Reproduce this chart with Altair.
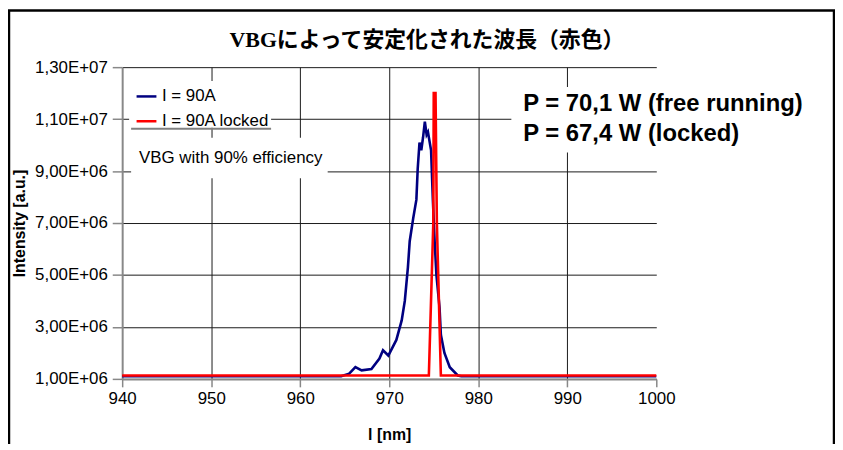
import altair as alt
import pandas as pd

# ---------------- data ----------------
series_names = ["I = 90A", "I = 90A locked"]
series_colors = ["#000080", "#ff0000"]

blue_nm = [940.0, 964.6, 965.5, 966.2, 966.9, 968.0, 968.9, 969.3, 969.9, 970.8,
           971.4, 971.75, 972.1, 972.3, 972.7, 973.05, 973.2, 973.4, 973.6, 973.8,
           974.0, 974.2, 974.35, 974.7, 974.9, 975.1, 975.3, 975.65, 975.8, 976.2,
           976.8, 977.7, 978.1, 1000.0]
blue_int = [1.10e6, 1.10e6, 1.20e6, 1.45e6, 1.33e6, 1.38e6, 1.78e6, 2.10e6, 1.90e6, 2.50e6,
            3.25e6, 4.00e6, 5.30e6, 6.30e6, 7.20e6, 7.90e6, 9.10e6, 1.01e7, 9.80e6, 1.03e7,
            1.09e7, 1.04e7, 1.05e7, 9.80e6, 7.90e6, 6.30e6, 5.00e6, 3.75e6, 2.70e6, 2.00e6,
            1.45e6, 1.13e6, 1.10e6, 1.10e6]

red_nm = [940.0, 974.45, 974.95, 975.0, 975.2, 975.35, 975.8, 1000.0]
red_int = [1.13e6, 1.13e6, 7.0e6, 1.2e7, 1.2e7, 7.0e6, 1.13e6, 1.13e6]

x_ticks = [940, 950, 960, 970, 980, 990, 1000]
y_ticks = [1e6, 3e6, 5e6, 7e6, 9e6, 1.1e7, 1.3e7]

chart_title = ["VBGによって安定化された波長（赤色）"]
x_title = "l [nm]"
y_title = "Intensity [a.u.]"
note_vbg = ["VBG with 90% efficiency"]
note_power_1 = ["P = 70,1 W (free running)"]
note_power_2 = ["P = 67,4 W (locked)"]

# ---------------- table ----------------
rows = []
for i, (x, y) in enumerate(zip(blue_nm, blue_int)):
    rows.append({"nm": x, "intensity": y, "series": series_names[0], "idx": i})
for i, (x, y) in enumerate(zip(red_nm, red_int)):
    rows.append({"nm": x, "intensity": y, "series": series_names[1], "idx": i})
df = pd.DataFrame(rows)

FONT = "Liberation Sans"
one = pd.DataFrame({"k": [0]})

label_expr = (
    "replace(format(datum.value / pow(10, floor(log(datum.value)/LN10 + 1e-9)), '.2f'), '.', ',')"
    " + 'E+' + (floor(log(datum.value)/LN10 + 1e-9) < 10 ? '0' : '')"
    " + floor(log(datum.value)/LN10 + 1e-9)"
)

x_enc = alt.X(
    "nm:Q",
    scale=alt.Scale(domain=[940, 1000], nice=False, zero=False),
    axis=alt.Axis(
        values=x_ticks, title=x_title, format="d", labelFlush=False,
        grid=True, gridColor="#1a1a1a", gridWidth=1,
        gridOpacity=alt.condition("datum.value == 940 || datum.value == 1000", alt.value(0), alt.value(1)),
        domainColor="#888888", domainWidth=2, tickColor="#888888", tickWidth=1.5, tickSize=8,
        labelFont=FONT, labelFontSize=17, labelColor="black", labelPadding=4,
        titleFont=FONT, titleFontSize=16, titleFontWeight="bold", titleColor="black",
        titleY=56, titleBaseline="middle",
    ),
)
y_enc = alt.Y(
    "intensity:Q",
    scale=alt.Scale(domain=[1e6, 1.3e7], nice=False, zero=False),
    axis=alt.Axis(
        values=y_ticks, title=y_title, labelExpr=label_expr, labelFlush=False,
        grid=True, gridColor="#1a1a1a", gridWidth=1,
        domainColor="#888888", domainWidth=2, tickColor="#888888", tickWidth=1.5, tickSize=10,
        labelFont=FONT, labelFontSize=17, labelColor="black", labelPadding=5,
        titleFont=FONT, titleFontSize=16, titleFontWeight="bold", titleColor="black",
        titleX=-103, titleY=157, titleBaseline="middle", titleAlign="center", titleAngle=270,
    ),
)

lines = alt.Chart(df).mark_line(strokeWidth=2.6).encode(
    x=x_enc,
    y=y_enc,
    color=alt.Color(
        "series:N",
        scale=alt.Scale(domain=series_names, range=series_colors),
        legend=alt.Legend(
            title=None, orient="none", legendX=13, legendY=18,
            symbolType="stroke", symbolSize=400, symbolStrokeWidth=2.5,
            labelFont=FONT, labelFontSize=17, labelColor="black", labelOffset=4,
            rowPadding=5, padding=0,
        ),
    ),
    order="idx:Q",
)

# white boxes behind legend / notes (they hide the grid, as in the original)
box_legend = alt.Chart(one).mark_rect(color="white").encode(
    x=alt.value(7), x2=alt.value(150), y=alt.value(14), y2=alt.value(61))
box_vbg = alt.Chart(one).mark_rect(color="white").encode(
    x=alt.value(9), x2=alt.value(207), y=alt.value(71), y2=alt.value(112))
box_power = alt.Chart(one).mark_rect(color="white").encode(
    x=alt.value(392), x2=alt.value(717), y=alt.value(20), y2=alt.value(86))
legend_rule = alt.Chart(one).mark_rule(color="#808080", strokeWidth=2).encode(
    x=alt.value(9), x2=alt.value(150), y=alt.value(62))

vbg_text = alt.Chart(pd.DataFrame({"t": note_vbg})).mark_text(
    align="left", baseline="middle", font=FONT, fontSize=17, color="black"
).encode(x=alt.value(17), y=alt.value(92), text="t:N")

power_text_1 = alt.Chart(pd.DataFrame({"t": note_power_1})).mark_text(
    align="left", baseline="middle", font=FONT, fontSize=24, fontWeight="bold", color="black"
).encode(x=alt.value(404), y=alt.value(37), text="t:N")
power_text_2 = alt.Chart(pd.DataFrame({"t": note_power_2})).mark_text(
    align="left", baseline="middle", font=FONT, fontSize=24, fontWeight="bold", color="black"
).encode(x=alt.value(404), y=alt.value(67), text="t:N")

title_text = alt.Chart(pd.DataFrame({"t": chart_title})).mark_text(
    align="center", baseline="middle", font="Liberation Serif, Noto Sans CJK JP",
    fontSize=22, fontWeight="bold", color="black"
).encode(x=alt.value(307), y=alt.value(-27), text="t:N")

# outer frame
frame_top = alt.Chart(one).mark_rule(color="black", strokeWidth=2.5).encode(
    x=alt.value(-115), x2=alt.value(718), y=alt.value(-57))
frame_left = alt.Chart(one).mark_rule(color="black", strokeWidth=2.5).encode(
    x=alt.value(-114), y=alt.value(-57), y2=alt.value(400))
frame_right = alt.Chart(one).mark_rule(color="black", strokeWidth=2.5).encode(
    x=alt.value(717), y=alt.value(-57), y2=alt.value(400))

chart = alt.layer(
    box_legend, box_vbg, box_power, legend_rule, lines, vbg_text,
    power_text_1, power_text_2, title_text,
    frame_top, frame_left, frame_right,
).properties(
    width=538,
    height=314,
    autosize=alt.AutoSizeParams(type="none"),
    padding={"left": 115, "top": 58, "right": 180, "bottom": 64},
).configure_view(stroke=None)

chart.save("out.html", embed_options={"renderer": "svg", "actions": False})
